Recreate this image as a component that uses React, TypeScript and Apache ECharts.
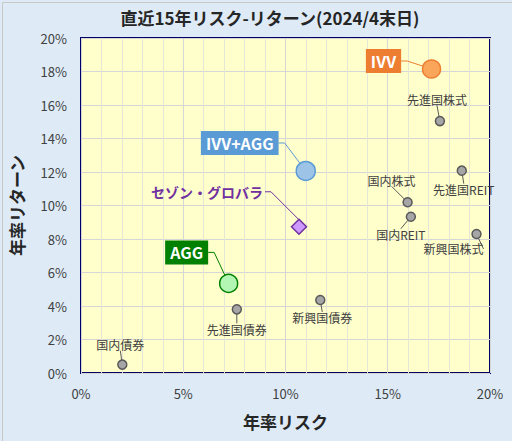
import React, { useEffect, useRef } from "react";
import * as echarts from "echarts";

const xTicks = [0, 5, 10, 15, 20];
const yMax = 20;

const assetNames = ["先進国株式", "先進国REIT", "国内株式", "国内REIT", "新興国株式", "先進国債券", "新興国債券", "国内債券"];
const assetRisk = [17.55, 18.62, 15.97, 16.13, 19.34, 7.62, 11.7, 2.02];
const assetReturn = [15.04, 12.08, 10.19, 9.33, 8.3, 3.8, 4.36, 0.5];

const featNames = ["IVV", "IVV+AGG", "セゾン・グロバラ", "AGG"];
const featRisk = [17.14, 10.99, 10.66, 7.22];
const featReturn = [18.15, 12.06, 8.73, 5.35];

// label offsets (style only)
const assetLabelShift = [
  [-3, -22], [2, 19], [-16, -22], [-10, 18], [-23, 15], [0, 20], [2, 18], [-2, -20],
];
const featLabelShift = [
  [-48, -8], [-66, -28], [-92, -35], [-42, -31],
];

const FONT = "'Noto Sans CJK JP', 'Noto Sans', sans-serif";

export default function App() {
  const ref = useRef<HTMLDivElement>(null);
  useEffect(() => {
    document.body.style.margin = "0";
    const chart = echarts.init(ref.current!, null, { renderer: "svg" });

    const featStyles = [
      { fill: "#F9A65A", stroke: "#ED7D31", symbol: "circle", size: 18, box: "#ED7D31", text: "#FFFFFF", line: "#ED7D31" },
      { fill: "#9DC3E6", stroke: "#5B9BD5", symbol: "circle", size: 19, box: "#5B9BD5", text: "#FFFFFF", line: "#5B9BD5" },
      { fill: "#CC99FF", stroke: "#7030A0", symbol: "diamond", size: 15, box: "transparent", text: "#7030A0", line: "#7030A0" },
      { fill: "#B3F5B3", stroke: "#008000", symbol: "circle", size: 18, box: "#008000", text: "#FFFFFF", line: "#008000" },
    ];

    const featSeries = featNames.map((name, i) => {
      const s = featStyles[i];
      const isText = s.box === "transparent";
      return {
        type: "scatter",
        name,
        symbol: s.symbol,
        symbolSize: s.size,
        z: 5,
        itemStyle: { color: s.fill, borderColor: s.stroke, borderWidth: 1.5, opacity: 1 },
        label: {
          show: true,
          position: "inside",
          formatter: name,
          color: s.text,
          fontFamily: FONT,
          fontWeight: "bold",
          fontSize: isText ? 14 : 16,
          backgroundColor: s.box,
          padding: isText ? [2, 2] : [4, 5],
        },
        labelLine: { show: true, length2: 6, lineStyle: { color: s.line, width: 1 } },
        labelLayout: { dx: featLabelShift[i][0], dy: featLabelShift[i][1], hideOverlap: false },
        data: [[featRisk[i], featReturn[i]]],
      };
    });

    chart.setOption({
      animation: false,
      backgroundColor: "#DEEBF7",
      title: {
        text: "直近15年リスク-リターン(2024/4末日)",
        left: 265,
        top: 4,
        textAlign: "center",
        textStyle: { fontFamily: FONT, fontSize: 17, fontWeight: "bold", color: "#262626" },
      },
      graphic: [
        {
          type: "rect",
          left: 0,
          top: 0,
          shape: { width: 511, height: 440 },
          style: { fill: "none", stroke: "#C8C8C8", lineWidth: 1 },
          silent: true,
          z: -1,
        },
      ],
      grid: {
        left: 77,
        right: 22,
        top: 38,
        bottom: 68,
        show: true,
        backgroundColor: "#FFFFCC",
        borderColor: "#000066",
        borderWidth: 2,
      },
      xAxis: {
        type: "value",
        min: xTicks[0],
        max: xTicks[xTicks.length - 1],
        interval: 5,
        splitNumber: 5,
        axisLine: { show: false },
        axisTick: { show: false },
        axisLabel: { formatter: "{value}%", color: "#404040", fontSize: 13, margin: 14, fontFamily: FONT },
        splitLine: { show: true, lineStyle: { color: "#D6D6D6", width: 1 } },
        minorTick: { show: false, splitNumber: 5 },
        minorSplitLine: { show: true, lineStyle: { color: "#E6E6D6", width: 1 } },
        name: "年率リスク",
        nameLocation: "middle",
        nameGap: 40,
        nameTextStyle: { fontFamily: FONT, fontSize: 17, fontWeight: "bold", color: "#262626" },
      },
      yAxis: {
        type: "value",
        min: 0,
        max: yMax,
        interval: 2,
        axisLine: { show: false },
        axisTick: { show: false },
        axisLabel: { formatter: "{value}%", color: "#404040", fontSize: 13, margin: 14, fontFamily: FONT },
        splitLine: { show: true, lineStyle: { color: "#D6D6D6", width: 1 } },
        name: "年率リターン",
        nameLocation: "middle",
        nameGap: 56,
        nameTextStyle: { fontFamily: FONT, fontSize: 17, fontWeight: "bold", color: "#262626" },
      },
      series: [
        {
          type: "scatter",
          name: "資産",
          symbol: "circle",
          symbolSize: 9,
          z: 4,
          itemStyle: { color: "#A6A6A6", borderColor: "#595959", borderWidth: 1.5, opacity: 1 },
          label: {
            show: true,
            position: "inside",
            formatter: (p: any) => assetNames[p.dataIndex],
            color: "#404040",
            fontSize: 12,
            fontFamily: FONT,
          },
          labelLine: { show: true, length2: 0, lineStyle: { color: "#595959", width: 1 } },
          labelLayout: (p: any) => ({
            dx: assetLabelShift[p.dataIndex][0],
            dy: assetLabelShift[p.dataIndex][1],
            hideOverlap: false,
          }),
          data: assetRisk.map((x, i) => [x, assetReturn[i]]),
        },
        ...featSeries,
      ],
    } as any);
    return () => chart.dispose();
  }, []);
  return <div ref={ref} style={{ width: 512, height: 441 }} />;
}
